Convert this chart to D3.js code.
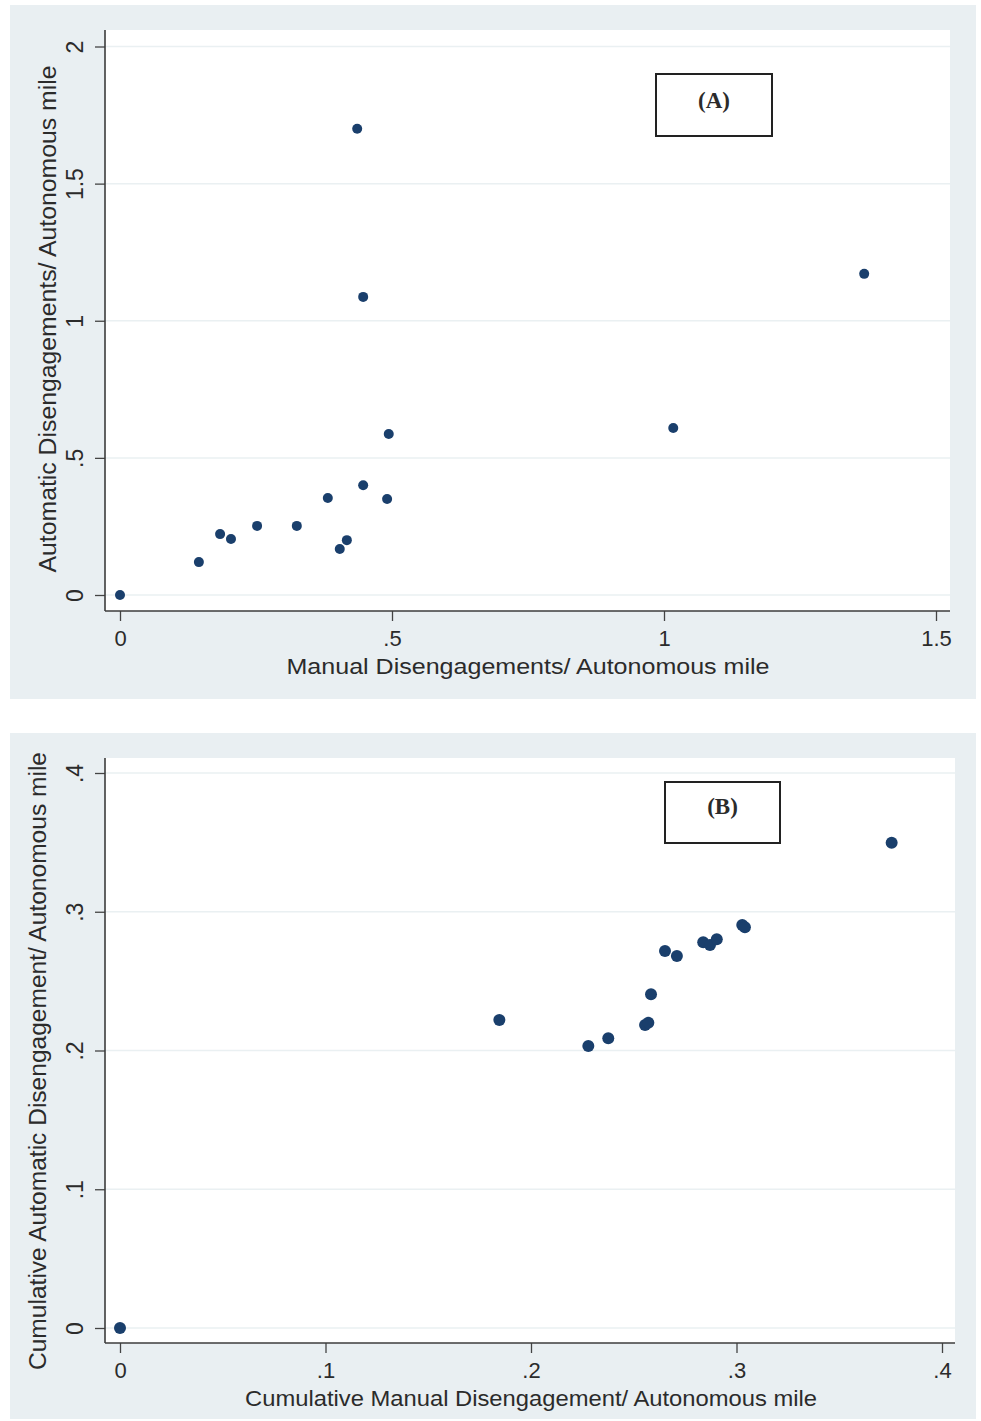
<!DOCTYPE html>
<html>
<head>
<meta charset="utf-8">
<script src="https://cdn.jsdelivr.net/npm/d3@7"></script>
<style>
  html, body { margin: 0; padding: 0; background: #ffffff; }
  svg { display: block; }
  text { font-family: "Liberation Sans", Arial, sans-serif; fill: #2b2b2b; }
</style>
</head>
<body>
<script>
// Panel A: disengagements per autonomous mile
const manualA    = [0, 0.145, 0.184, 0.204, 0.252, 0.325, 0.382, 0.404, 0.417, 0.447, 0.491, 0.494, 0.436, 0.447, 1.017, 1.368];
const automaticA = [0, 0.120, 0.222, 0.204, 0.252, 0.252, 0.354, 0.168, 0.200, 0.400, 0.350, 0.587, 1.700, 1.087, 0.609, 1.171];
const xTicksA = [0, 0.5, 1, 1.5];
const xTickLabelsA = ["0", ".5", "1", "1.5"];
const yTicksA = [0, 0.5, 1, 1.5, 2];
const yTickLabelsA = ["0", ".5", "1", "1.5", "2"];

// Panel B: cumulative disengagements per autonomous mile
const manualB    = [0, 0.1846, 0.2279, 0.2376, 0.2555, 0.2571, 0.2584, 0.2652, 0.2710, 0.2838, 0.2871, 0.2904, 0.3028, 0.3041, 0.3755];
const automaticB = [0, 0.2220, 0.2032, 0.2088, 0.2184, 0.2200, 0.2405, 0.2717, 0.2681, 0.2780, 0.2760, 0.2801, 0.2905, 0.2888, 0.3498];
const xTicksB = [0, 0.1, 0.2, 0.3, 0.4];
const xTickLabelsB = ["0", ".1", ".2", ".3", ".4"];
const yTicksB = [0, 0.1, 0.2, 0.3, 0.4];
const yTickLabelsB = ["0", ".1", ".2", ".3", ".4"];

const W = 981, H = 1421;
const svg = d3.select("body").append("svg").attr("width", W).attr("height", H);

const panels = [
  {
    outer: {x: 10, y: 5, w: 966, h: 694},
    plot: {left: 105, right: 950, top: 30, bottom: 611},
    xDomain: [0, 1.5], xRange: [120, 936],
    yDomain: [0, 2], yRange: [595, 46.5],
    xs: manualA, ys: automaticA,
    xTicks: xTicksA, xLabels: xTickLabelsA,
    yTicks: yTicksA, yLabels: yTickLabelsA,
    xTitle: "Manual Disengagements/ Autonomous mile", xTitleY: 666, xTitleLen: 483,
    yTitle: "Automatic Disengagements/ Autonomous mile", yTitleX: 48, yTitleC: 319, yTitleLen: 507,
    tag: "(A)", box: {x: 656, y: 74, w: 116, h: 62}, tagDy: -5,
    r: 5
  },
  {
    outer: {x: 10, y: 733, w: 966, h: 686},
    plot: {left: 105, right: 955, top: 758, bottom: 1343},
    xDomain: [0, 0.4], xRange: [120, 942],
    yDomain: [0, 0.4], yRange: [1328, 773],
    xs: manualB, ys: automaticB,
    xTicks: xTicksB, xLabels: xTickLabelsB,
    yTicks: yTicksB, yLabels: yTickLabelsB,
    xTitle: "Cumulative Manual Disengagement/ Autonomous mile", xTitleY: 1398, xTitleLen: 572,
    yTitle: "Cumulative Automatic Disengagement/ Autonomous mile", yTitleX: 38, yTitleC: 1061, yTitleLen: 618,
    tag: "(B)", box: {x: 665, y: 782, w: 115, h: 61}, tagDy: -6,
    r: 6
  }
];

panels.forEach(p => {
  const g = svg.append("g");
  const x = d3.scaleLinear().domain(p.xDomain).range(p.xRange);
  const y = d3.scaleLinear().domain(p.yDomain).range(p.yRange);

  // graph region background
  g.append("rect")
    .attr("x", p.outer.x).attr("y", p.outer.y)
    .attr("width", p.outer.w).attr("height", p.outer.h)
    .attr("fill", "#e9eff2");

  // plot region
  g.append("rect")
    .attr("x", p.plot.left).attr("y", p.plot.top)
    .attr("width", p.plot.right - p.plot.left).attr("height", p.plot.bottom - p.plot.top)
    .attr("fill", "#ffffff");

  // horizontal grid lines
  g.append("g").selectAll("line").data(p.yTicks).join("line")
    .attr("x1", p.plot.left).attr("x2", p.plot.right)
    .attr("y1", d => y(d)).attr("y2", d => y(d))
    .attr("stroke", "#eaf0f2").attr("stroke-width", 1.5);

  // y axis
  const yAxis = d3.axisLeft(y).tickValues(p.yTicks)
    .tickFormat((d, i) => p.yLabels[i]).tickSize(10).tickSizeOuter(0);
  const ya = g.append("g").attr("transform", `translate(${p.plot.left},0)`).call(yAxis);
  ya.select(".domain").remove();
  ya.selectAll(".tick line").attr("stroke", "#444").attr("stroke-width", 1.3);
  ya.selectAll(".tick text")
    .attr("x", null).attr("dy", null)
    .attr("transform", "translate(-30,0) rotate(-90)")
    .attr("text-anchor", "middle")
    .attr("dominant-baseline", "central")
    .style("font-size", "23px")
    .style("font-family", "'Liberation Sans', Arial, sans-serif")
    .attr("fill", "#2b2b2b");

  // x axis
  const xAxis = d3.axisBottom(x).tickValues(p.xTicks)
    .tickFormat((d, i) => p.xLabels[i]).tickSize(10).tickSizeOuter(0);
  const xa = g.append("g").attr("transform", `translate(0,${p.plot.bottom})`).call(xAxis);
  xa.select(".domain").remove();
  xa.selectAll(".tick line").attr("stroke", "#444").attr("stroke-width", 1.3);
  xa.selectAll(".tick text")
    .attr("y", 27).attr("dy", null)
    .attr("dominant-baseline", "central")
    .style("font-size", "22px")
    .style("font-family", "'Liberation Sans', Arial, sans-serif")
    .attr("fill", "#2b2b2b");

  // axis lines
  g.append("line")
    .attr("x1", p.plot.left).attr("x2", p.plot.left)
    .attr("y1", p.plot.top).attr("y2", p.plot.bottom)
    .attr("stroke", "#3c3c3c").attr("stroke-width", 1.6);
  g.append("line")
    .attr("x1", p.plot.left).attr("x2", p.plot.right)
    .attr("y1", p.plot.bottom).attr("y2", p.plot.bottom)
    .attr("stroke", "#3c3c3c").attr("stroke-width", 1.6);

  // axis titles
  g.append("text")
    .attr("x", (p.xRange[0] + p.xRange[1]) / 2).attr("y", p.xTitleY)
    .attr("text-anchor", "middle").attr("dominant-baseline", "central")
    .attr("textLength", p.xTitleLen).attr("lengthAdjust", "spacingAndGlyphs")
    .style("font-size", "22px")
    .text(p.xTitle);
  g.append("text")
    .attr("transform", `translate(${p.yTitleX},${p.yTitleC}) rotate(-90)`)
    .attr("text-anchor", "middle").attr("dominant-baseline", "central")
    .attr("textLength", p.yTitleLen).attr("lengthAdjust", "spacingAndGlyphs")
    .style("font-size", "23px")
    .text(p.yTitle);

  // panel tag box
  g.append("rect")
    .attr("x", p.box.x).attr("y", p.box.y)
    .attr("width", p.box.w).attr("height", p.box.h)
    .attr("fill", "#ffffff").attr("stroke", "#222").attr("stroke-width", 2);
  g.append("text")
    .attr("x", p.box.x + p.box.w / 2).attr("y", p.box.y + p.box.h / 2 + p.tagDy)
    .attr("text-anchor", "middle").attr("dominant-baseline", "central")
    .style("font-family", "'Liberation Serif', 'Times New Roman', serif")
    .style("font-weight", "bold").style("font-size", "23px")
    .attr("fill", "#111")
    .text(p.tag);

  // scatter points
  const pts = p.xs.map((v, i) => ({x: v, y: p.ys[i]}));
  g.append("g").selectAll("circle").data(pts).join("circle")
    .attr("cx", d => x(d.x)).attr("cy", d => y(d.y))
    .attr("r", p.r)
    .attr("fill", "#1a3f6c");
});
</script>
</body>
</html>
